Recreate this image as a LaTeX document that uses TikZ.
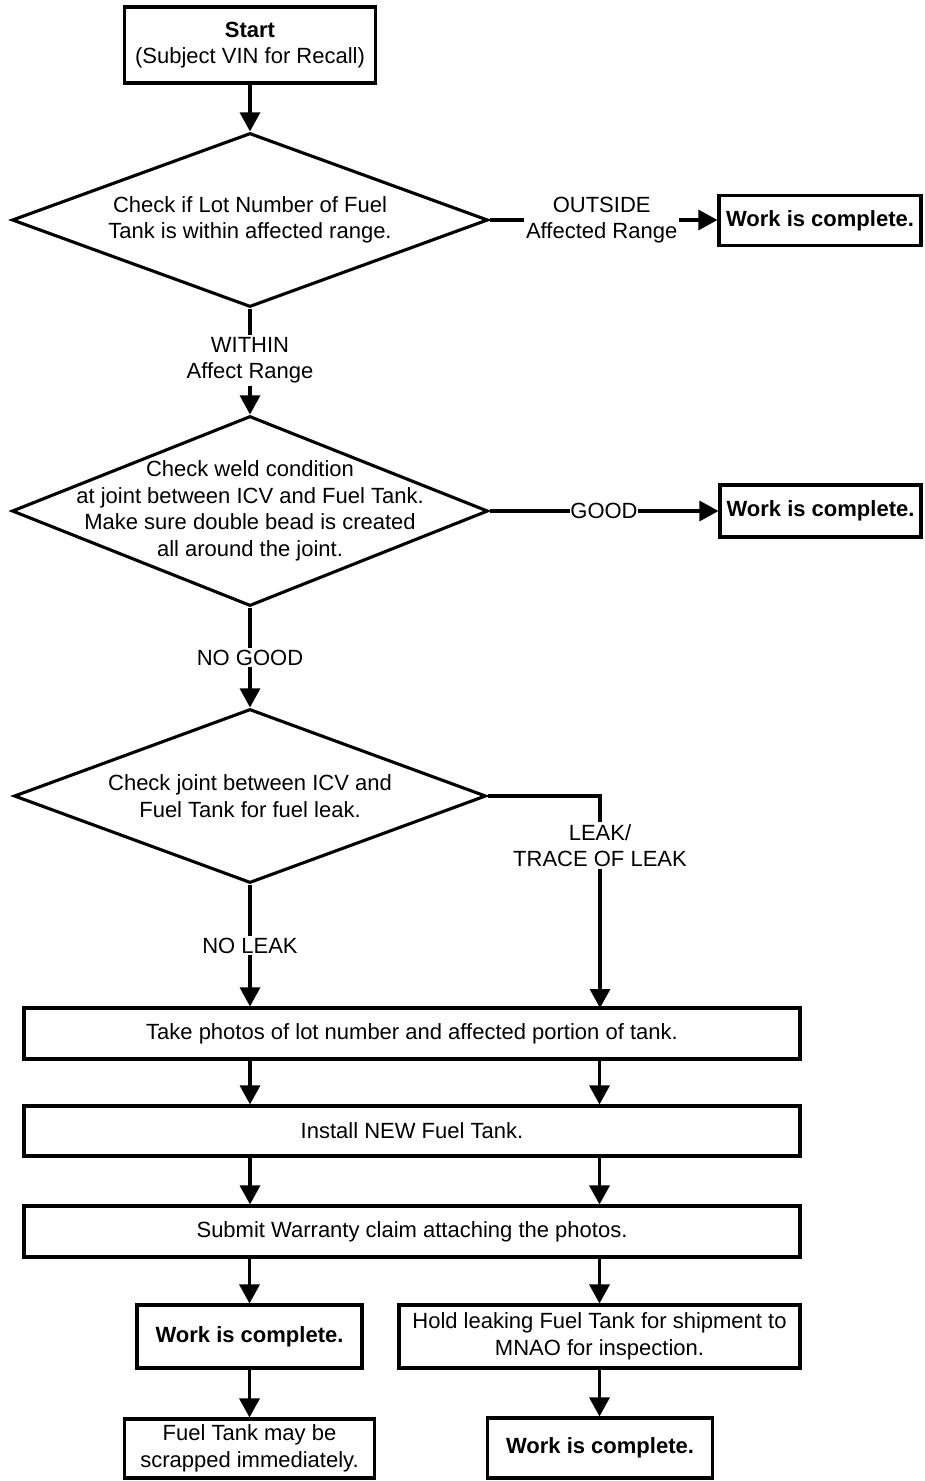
\documentclass[tikz,border=0pt]{standalone}
\usepackage{fontspec}
\setmainfont{Liberation Sans}
\usetikzlibrary{shapes.geometric,arrows.meta,calc}
\begin{document}
\begin{tikzpicture}[x=1pt,y=-1pt,
  font=\fontsize{22}{26.5}\selectfont,
  box/.style={draw, line width=3.1pt, rectangle, inner sep=0pt, align=center},
  dec/.style={draw, diamond, line width=3.1pt, inner sep=0pt},
  dtext/.style={align=center, inner sep=0pt},
  lab/.style={fill=white, inner sep=2pt, align=center},
  arr/.style={line width=3.1pt, -{Triangle[length=19pt,width=20pt]}},
]
\useasboundingbox (0,0) rectangle (924,1481);

% nodes
\node[box, minimum width=251, minimum height=76] (start) at (250,45)
  {\textbf{Start}\\(Subject VIN for Recall)};

\node[dec, minimum width=476, minimum height=174] (d1) at (250,220) {};
\node[dtext] (d1t) at (d1) {Check if Lot Number of Fuel\\Tank is within affected range.};

\node[box, minimum width=202, minimum height=50] (w1) at (820,220.5) {\textbf{Work is complete.}};

\node[dec, minimum width=476, minimum height=190] (d2) at (250,511) {};
\node[dtext] (d2t) at (d2) {Check weld condition\\at joint between ICV and Fuel Tank.\\Make sure double bead is created\\all around the joint.};

\node[box, minimum width=201, minimum height=52] (w2) at (820.5,511) {\textbf{Work is complete.}};

\node[dec, minimum width=472, minimum height=174] (d3) at (250,796) {};
\node[dtext] (d3t) at (d3) {Check joint between ICV and\\Fuel Tank for fuel leak.};

\node[box, minimum width=776, minimum height=51] (tp) at (412,1033.5)
  {Take photos of lot number and affected portion of tank.};
\node[box, minimum width=776, minimum height=50] (inst) at (412,1131)
  {Install NEW Fuel Tank.};
\node[box, minimum width=776, minimum height=51] (sub) at (412,1231.5)
  {Submit Warranty claim attaching the photos.};

\node[box, minimum width=225, minimum height=63] (w3) at (249.5,1336.5) {\textbf{Work is complete.}};
\node[box, minimum width=401, minimum height=63] (hold) at (599.5,1336.5)
  {Hold leaking Fuel Tank for shipment to\\MNAO for inspection.};

\node[box, minimum width=250, minimum height=59] (scrap) at (249.5,1448.5)
  {Fuel Tank may be\\scrapped immediately.};
\node[box, minimum width=225, minimum height=60] (w4) at (600,1448) {\textbf{Work is complete.}};

\coordinate (leakend) at (600,1008);

% connectors
\draw[arr] (start.south) -- (d1.north);
\draw[arr] (d1.east) -- node[lab, pos=0.492]{OUTSIDE\\Affected Range} (w1.west |- d1.east);
\draw[arr] (d1.south) -- node[lab, pos=0.49]{WITHIN\\Affect Range} (d2.north);
\draw[arr] (d2.east) -- node[lab, inner sep=0pt, pos=0.5]{GOOD} (w2.west |- d2.east);
\draw[arr] (d2.south) -- node[lab]{NO GOOD} (d3.north);
\draw[arr] (d3.south) -- node[lab, pos=0.5]{NO LEAK} (d3.south |- tp.north);
\draw[arr] (d3.east) -| node[lab, pos=0.617]{LEAK/\\TRACE OF LEAK} (leakend);

\draw[arr] (tp.south -| d1) -- (inst.north -| d1);
\draw[arr] (tp.south -| hold) -- (inst.north -| hold);
\draw[arr] (inst.south -| d1) -- (sub.north -| d1);
\draw[arr] (inst.south -| hold) -- (sub.north -| hold);
\draw[arr] (sub.south -| w3) -- (w3.north);
\draw[arr] (sub.south -| hold) -- (hold.north);
\draw[arr] (w3.south) -- (w3.south |- scrap.north);
\draw[arr] (hold.south) -- (hold.south |- w4.north);
\end{tikzpicture}
\end{document}
